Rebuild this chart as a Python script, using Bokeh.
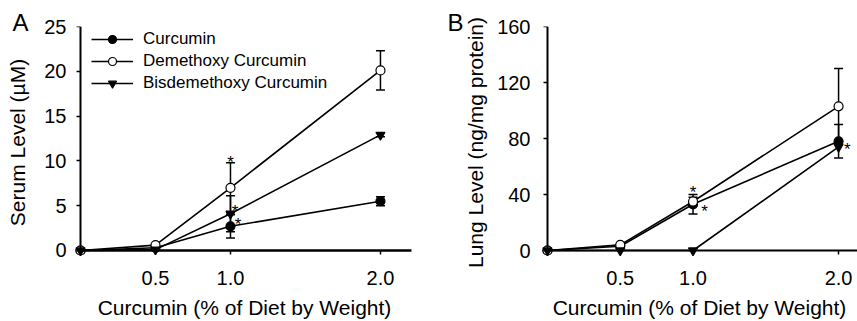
from bokeh.plotting import figure
from bokeh.layouts import row
from bokeh.models import (ColumnDataSource, Whisker, TeeHead, FixedTicker, Legend,
                          LegendItem, Range1d, LinearAxis, Title)
from bokeh.core.properties import value
from bokeh.embed import file_html
from bokeh.resources import INLINE

FONT = "Liberation Sans"

# ---------------- data ----------------
doses = [0, 0.5, 1.0, 2.0]
xtick_vals = [0.5, 1.0, 2.0]
xtick_labels = ["0.5", "1.0", "2.0"]

# Panel A: serum level (uM)
serum_cur = [0, 0.3, 2.7, 5.5]
serum_cur_err = [0, 0, 1.3, 0.5]
serum_dem = [0, 0.6, 7.0, 20.1]
serum_dem_err = [0, 0, 2.8, 2.2]
serum_bis = [0, 0.1, 4.1, 12.9]
serum_bis_err = [0, 0, 2.0, 0.2]
serum_yticks = [0, 5, 10, 15, 20, 25]
serum_star_x = [1.0, 1.03, 1.05]
serum_star_y = [10.3, 4.8, 3.35]

# Panel B: lung level (ng/mg protein)
lung_cur = [0, 3, 33, 78]
lung_cur_err = [0, 0, 7, 12]
lung_dem = [0, 4, 35, 103]
lung_dem_err = [0, 0, 3, 27]
lung_bis = [0, 0, 0, 74]
lung_bis_err = [0, 0, 0, 0]
lung_yticks = [0, 40, 80, 120, 160]
lung_star_x = [1.0, 1.08, 2.06]
lung_star_y = [44.3, 30.7, 75]

series_names = ["Curcumin", "Demethoxy Curcumin", "Bisdemethoxy Curcumin"]


def style_axes(p, yticks, xbound, ybound, xaxis_w, yaxis_w, ylabel,
               ystandoff, ylabstandoff, xstandoff=12, xlabstandoff=8):
    # label axes (at the frame edges): only tick labels and titles
    p.xaxis.ticker = FixedTicker(ticks=xtick_vals)
    p.xaxis.major_label_overrides = {v: s for v, s in zip(xtick_vals, xtick_labels)}
    p.yaxis.ticker = FixedTicker(ticks=yticks)
    p.xaxis.axis_label = "Curcumin (% of Diet by Weight)"
    p.yaxis.axis_label = ylabel
    p.xaxis.bounds = xbound
    p.yaxis.bounds = ybound
    for ax in (p.xaxis, p.yaxis):
        ax.axis_line_color = None
        ax.major_tick_line_color = None
        ax.major_tick_out = 0
        ax.major_tick_in = 0
        ax.minor_tick_line_color = None
        ax.minor_tick_out = 0
        ax.major_label_text_font = FONT
        ax.major_label_text_font_size = "20px"
        ax.major_label_text_color = "black"
        ax.axis_label_text_font = FONT
        ax.axis_label_text_font_size = "21px"
        ax.axis_label_text_font_style = "normal"
        ax.axis_label_text_color = "black"
    p.xaxis.major_label_standoff = xstandoff
    p.xaxis.axis_label_standoff = xlabstandoff
    p.yaxis.major_label_standoff = ystandoff
    p.yaxis.axis_label_standoff = ylabstandoff

    # line axes placed at data zero: axis lines and tick marks only
    common = dict(major_tick_line_color="black", major_tick_line_width=1.5,
                  major_tick_out=4, major_tick_in=0, minor_tick_line_color=None,
                  minor_tick_out=0, major_label_text_font_size="0px",
                  major_label_text_color=None, major_label_standoff=0,
                  axis_line_color="black")
    fx = LinearAxis(fixed_location=0, bounds=xbound, ticker=FixedTicker(ticks=xtick_vals),
                    axis_line_width=xaxis_w, **common)
    fy = LinearAxis(fixed_location=0, bounds=ybound, ticker=FixedTicker(ticks=yticks),
                    axis_line_width=yaxis_w, **common)
    p.add_layout(fx, "below")
    p.add_layout(fy, "left")
    p.xgrid.visible = False
    p.ygrid.visible = False
    p.outline_line_color = None


def panel_letter(letter, offset):
    return Title(text=letter, align="left", offset=offset, standoff=-18,
                 text_font=FONT, text_font_size="24px", text_font_style="normal",
                 text_color="black")


def add_series(p, ys, errs, marker, fill):
    src = ColumnDataSource(dict(x=doses, y=ys))
    ln = p.line("x", "y", source=src, line_color="black", line_width=1.6)
    ex = [x for x, e in zip(doses, errs) if e > 0]
    ey = [y for y, e in zip(ys, errs) if e > 0]
    ee = [e for e in errs if e > 0]
    if ex:
        wsrc = ColumnDataSource(dict(base=ex, upper=[y + e for y, e in zip(ey, ee)],
                                     lower=[y - e for y, e in zip(ey, ee)]))
        w = Whisker(source=wsrc, base="base", upper="upper", lower="lower",
                    line_color="black", line_width=1.5,
                    upper_head=TeeHead(size=9, line_color="black", line_width=1.5),
                    lower_head=TeeHead(size=9, line_color="black", line_width=1.5))
        p.add_layout(w)
    sc = p.scatter("x", "y", source=src, marker=marker, size=9,
                   fill_color=fill, line_color="black", line_width=1.2)
    return ln, sc


def add_stars(p, xs, ys):
    src = ColumnDataSource(dict(x=xs, y=ys, t=["*"] * len(xs)))
    p.text("x", "y", text="t", source=src, text_font=value(FONT), text_font_size="17px",
           text_align="center", text_baseline="middle", y_offset=4, text_color="black")


# ---------------- Panel A ----------------
pA = figure(width=438, height=321, output_backend="svg", toolbar_location=None,
            title=panel_letter("A", -62),
            x_range=Range1d(-0.04, 2.227), y_range=Range1d(-0.893, 25),
            min_border_left=74, min_border_right=24, min_border_top=26, min_border_bottom=63)
style_axes(pA, serum_yticks, (0, 2.21), (0, 25), 2.5, 2, "Serum Level (\u00b5M)", 8, 12)

items = []
for ys, errs, mk, fill, name in [(serum_cur, serum_cur_err, "circle", "black", series_names[0]),
                                 (serum_dem, serum_dem_err, "circle", "white", series_names[1]),
                                 (serum_bis, serum_bis_err, "inverted_triangle", "black", series_names[2])]:
    ln, sc = add_series(pA, ys, errs, mk, fill)
    items.append(LegendItem(label=name, renderers=[ln, sc]))
add_stars(pA, serum_star_x, serum_star_y)

legend = Legend(items=items, location=(17, 165), glyph_width=42, glyph_height=20,
                label_height=20, spacing=2, padding=0, margin=0, label_standoff=10,
                label_text_font=FONT, label_text_font_size="17px", label_text_color="black",
                border_line_color=None, background_fill_alpha=0)
pA.add_layout(legend)

# ---------------- Panel B ----------------
pB = figure(width=419, height=321, output_backend="svg", toolbar_location=None,
            title=panel_letter("B", -94),
            x_range=Range1d(-0.041, 2.13), y_range=Range1d(-5.71, 160),
            min_border_left=103, min_border_right=0, min_border_top=26, min_border_bottom=63)
style_axes(pB, lung_yticks, (0, 2.13), (0, 160), 2, 2, "Lung Level (ng/mg protein)", 11, 7)

for ys, errs, mk, fill in [(lung_cur, lung_cur_err, "circle", "black"),
                           (lung_dem, lung_dem_err, "circle", "white"),
                           (lung_bis, lung_bis_err, "inverted_triangle", "black")]:
    add_series(pB, ys, errs, mk, fill)
add_stars(pB, lung_star_x, lung_star_y)

layout = row(pA, pB)
open("out.html", "w").write(file_html(layout, INLINE))
